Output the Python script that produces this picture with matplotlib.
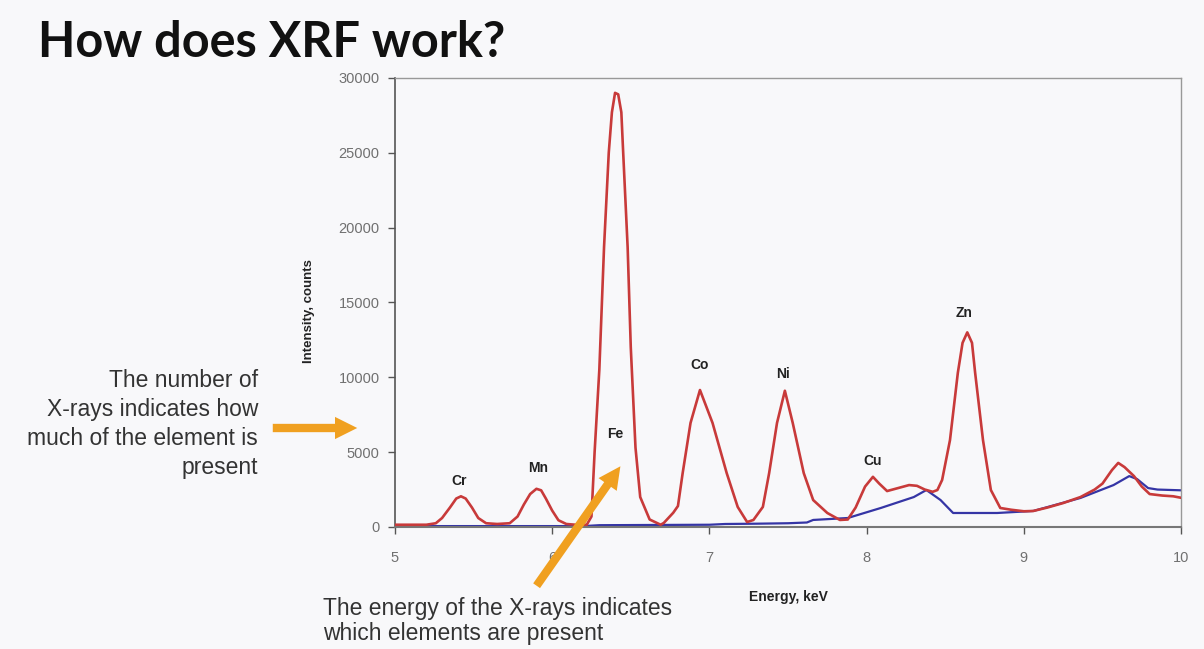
import matplotlib.pyplot as plt
from matplotlib.patches import FancyArrowPatch

# ------------------------------#
# Spectrum values #
# ------------------------------#
sample_energy = [5.00, 5.10, 5.20, 5.26, 5.30, 5.35, 5.39, 5.42, 5.45, 5.49, 5.53, 5.58,
                 5.65, 5.73, 5.78, 5.82, 5.86, 5.90, 5.93, 5.96, 6.00, 6.04, 6.09, 6.15,
                 6.22, 6.25, 6.27, 6.30, 6.33, 6.36, 6.38, 6.40, 6.42, 6.44, 6.45, 6.48,
                 6.50, 6.53, 6.56, 6.62, 6.69, 6.71, 6.77, 6.80, 6.83, 6.88, 6.94, 7.02,
                 7.11, 7.18, 7.24, 7.28, 7.34, 7.38, 7.43, 7.48, 7.53, 7.60, 7.66, 7.75,
                 7.83, 7.88, 7.93, 7.99, 8.04, 8.08, 8.13, 8.20, 8.27, 8.32, 8.37, 8.42,
                 8.45, 8.48, 8.53, 8.58, 8.61, 8.64, 8.67, 8.69, 8.74, 8.79, 8.85, 8.92,
                 9.00, 9.06, 9.15, 9.25, 9.36, 9.45, 9.50, 9.56, 9.60, 9.64, 9.70, 9.75,
                 9.80, 9.88, 9.95, 10.00]
sample_counts = [150, 150, 150, 250, 600, 1300, 1900, 2050, 1900, 1300, 600, 250,
                 200, 250, 700, 1500, 2200, 2550, 2450, 1900, 1100, 450, 200, 150,
                 150, 700, 5000, 10500, 18700, 25000, 27700, 29000, 28900, 27700, 25400, 18700,
                 12000, 5300, 2000, 500, 150, 270, 950, 1400, 3600, 6950, 9150, 6950,
                 3600, 1340, 330, 470, 1340, 3600, 6950, 9100, 6950, 3600, 1800, 935,
                 470, 500, 1300, 2700, 3350, 2900, 2400, 2600, 2800, 2750, 2500, 2350,
                 2470, 3140, 5800, 10300, 12300, 13000, 12300, 10300, 5800, 2470, 1270, 1150,
                 1050, 1070, 1300, 1600, 2000, 2500, 2900, 3800, 4280, 4000, 3400, 2700,
                 2200, 2100, 2050, 1950]

blank_energy = [5.00, 6.20, 6.30, 7.00, 7.10, 7.30, 7.50, 7.62, 7.66, 7.88, 8.09, 8.30,
                8.38, 8.47, 8.55, 8.83, 9.06, 9.36, 9.57, 9.67, 9.72, 9.79, 9.85, 10.00]
blank_counts = [60, 60, 120, 150, 200, 220, 250, 300, 470, 600, 1270, 2000,
                2470, 1800, 935, 935, 1070, 1940, 2800, 3400, 3200, 2600, 2500, 2450]

elements = ['Cr', 'Mn', 'Fe', 'Co', 'Ni', 'Cu', 'Zn']
element_energy = [5.41, 5.91, 6.40, 6.94, 7.47, 8.04, 8.62]
element_label_y = [3070, 3940, 6200, 10800, 10220, 4400, 14300]

x_ticks = [5, 6, 7, 8, 9, 10]
y_ticks = [0, 5000, 10000, 15000, 20000, 25000, 30000]

BG = '#f8f8fa'
ORANGE = '#f0a020'

fig = plt.figure(figsize=(12.04, 6.49), dpi=100, facecolor=BG)
ax = fig.add_axes([0.328, 0.188, 0.653, 0.692], facecolor=BG)

ax.plot(blank_energy, blank_counts, color='#3535a5', lw=1.6, zorder=2)
ax.plot(sample_energy, sample_counts, color='#c83a3a', lw=1.9, zorder=3)

for name, xe, ye in zip(elements, element_energy, element_label_y):
    ax.text(xe, ye, name, ha='center', va='center', fontsize=10,
            fontweight='bold', family='Liberation Sans', color='#222222')

ax.set_xlim(5, 10)
ax.set_ylim(0, 30000)
ax.set_xticks(x_ticks)
ax.set_yticks(y_ticks)
ax.set_xticklabels([str(t) for t in x_ticks])
ax.set_yticklabels([str(t) for t in y_ticks])
ax.tick_params(axis='both', labelsize=10.5, labelcolor='#707070', color='#555555',
               length=5, width=1)
ax.tick_params(axis='x', pad=12)
ax.tick_params(axis='y', pad=6)
for lab in ax.get_xticklabels() + ax.get_yticklabels():
    lab.set_family('Liberation Sans')

for side in ['top', 'right']:
    ax.spines[side].set_color('#999999')
    ax.spines[side].set_linewidth(1)
ax.spines['left'].set_color('#555555')
ax.spines['bottom'].set_color('#777777')
ax.spines['left'].set_linewidth(1.2)
ax.spines['bottom'].set_linewidth(1.5)

ax.set_ylabel('Intensity, counts', fontsize=9.5, fontweight='bold',
              family='Liberation Sans', color='#222222')
ax.yaxis.set_label_coords(-0.102, 0.48)
ax.set_xlabel('Energy, keV', fontsize=10, fontweight='bold',
              family='Liberation Sans', color='#222222')
ax.xaxis.set_label_coords(0.5, -0.14)

# title
fig.text(38 / 1204, 1 - 57 / 649, 'How does XRF work?', fontsize=35,
         fontweight='bold', family='Lato', color='#111111', va='baseline', ha='left')

# left annotation
fig.text(258 / 1204, 1 - 424 / 649,
         'The number of\nX-rays indicates how\nmuch of the element is\npresent',
         ha='right', va='center', fontsize=16.5, family='Liberation Sans',
         color='#333333', linespacing=1.33)

# bottom annotation
fig.text(323 / 1204, 1 - 621 / 649,
         'The energy of the X-rays indicates\nwhich elements are present',
         ha='left', va='center', fontsize=16.5, family='Liberation Sans',
         color='#333333', linespacing=1.08)

# orange arrows (figure pixel coordinates)
arrow_style = 'simple,head_width=3.2,head_length=3.2,tail_width=1.2'
for tail, head in [((270, 428), (360, 428)), ((535, 588), (622, 464))]:
    arr = FancyArrowPatch((tail[0], 649 - tail[1]), (head[0], 649 - head[1]),
                          arrowstyle=arrow_style, mutation_scale=5,
                          color=ORANGE, lw=0, transform=None, zorder=5)
    fig.add_artist(arr)

fig.savefig('out.png', dpi=100, facecolor=BG)
